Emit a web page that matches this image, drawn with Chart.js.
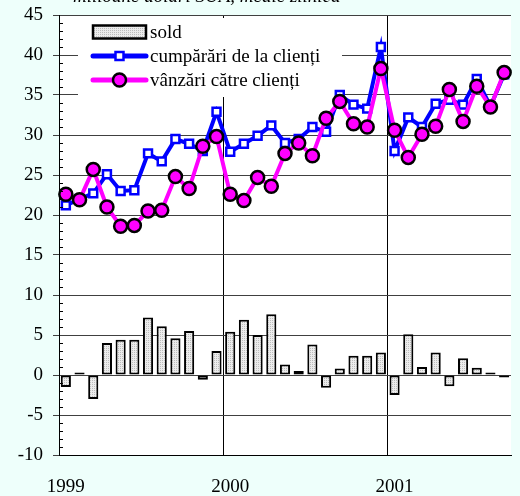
<!DOCTYPE html>
<html>
<head>
<meta charset="utf-8">
<script src="https://cdn.jsdelivr.net/npm/chart.js@4/dist/chart.umd.min.js"></script>
<style>
  html, body { margin: 0; padding: 0; background: #eefffb; }
  #wrap { width: 520px; height: 496px; }
</style>
</head>
<body>
<div id="wrap"><canvas id="chart" width="520" height="496"></canvas></div>
<script>
// luni ian. 1999 - sep. 2001
const months = [
  '1999-01', '1999-02', '1999-03', '1999-04', '1999-05', '1999-06', '1999-07', '1999-08', '1999-09', '1999-10', '1999-11', '1999-12',
  '2000-01', '2000-02', '2000-03', '2000-04', '2000-05', '2000-06', '2000-07', '2000-08', '2000-09', '2000-10', '2000-11', '2000-12',
  '2001-01', '2001-02', '2001-03', '2001-04', '2001-05', '2001-06', '2001-07', '2001-08', '2001-09'
];
const sold = [-1.5, 0.1, -3.0, 4.0, 4.4, 4.4, 7.2, 6.1, 4.6, 5.5, -0.6, 3.0,
  5.4, 6.9, 5.0, 7.6, 1.3, 0.5, 3.8, -1.6, 0.8, 2.4, 2.4, 2.8,
  -2.5, 5.1, 1.0, 2.8, -1.4, 2.1, 0.9, 0.1, -0.2];
const cumparari = [21.2, 22.0, 22.7, 25.1, 23.0, 23.1, 27.7, 26.7, 29.5, 28.9, 28.0, 32.9,
  27.9, 28.9, 29.9, 31.2, 29.0, 29.5, 31.0, 30.4, 35.0, 33.8, 33.3, 41.0,
  28.0, 32.2, 31.0, 33.9, 34.4, 33.8, 37.0, 33.6, 37.6];
const vanzari = [22.6, 21.9, 25.7, 21.0, 18.6, 18.7, 20.5, 20.6, 24.8, 23.3, 28.6, 29.8,
  22.6, 21.8, 24.7, 23.6, 27.7, 29.0, 27.4, 32.1, 34.2, 31.4, 31.0, 38.3,
  30.6, 27.2, 30.1, 31.1, 35.7, 31.7, 36.1, 33.5, 37.8];
const yTicks = { min: -10, max: 45, step: 5 };
const seriesNames = ['sold', 'cumpărări de la clienți', 'vânzări către clienți'];
const unitText = 'milioane dolari SUA, medie zilnică';

const FONT = 'Liberation Serif';

// dotted grey fill like the original bars
function dotPattern() {
  const p = document.createElement('canvas');
  p.width = 2; p.height = 2;
  const pc = p.getContext('2d');
  pc.fillStyle = '#ececec';
  pc.fillRect(0, 0, 2, 2);
  pc.fillStyle = '#bdbdbd';
  pc.fillRect(0, 0, 1, 1);
  return pc.createPattern(p, 'repeat');
}
const barFill = dotPattern();

const plotBg = {
  id: 'plotBg',
  beforeDraw(chart) {
    const a = chart.chartArea, c = chart.ctx;
    c.save();
    c.fillStyle = '#fff';
    c.fillRect(a.left, a.top, a.right - a.left, a.bottom - a.top);
    c.restore();
  }
};

const legendBox = {
  id: 'legendBox',
  beforeDatasetsDraw(chart) {
    const c = chart.ctx;
    c.save();
    c.fillStyle = '#fff';
    c.fillRect(78, 18, 264, 79);
    const x0 = 93, x1 = 146, xm = 119.5;
    const rows = [32, 56, 80];
    // sold
    c.fillStyle = barFill;
    c.fillRect(x0, rows[0] - 6.5, x1 - x0, 13);
    c.strokeStyle = '#000';
    c.lineWidth = 2.5;
    c.strokeRect(x0, rows[0] - 6.5, x1 - x0, 13);
    // cumparari
    c.lineCap = 'round';
    c.strokeStyle = '#0000ff';
    c.lineWidth = 5;
    c.beginPath(); c.moveTo(x0, rows[1]); c.lineTo(x1, rows[1]); c.stroke();
    c.fillStyle = '#fff';
    c.lineWidth = 2.5;
    c.fillRect(xm - 4, rows[1] - 4, 8, 8);
    c.strokeRect(xm - 4, rows[1] - 4, 8, 8);
    // vanzari
    c.strokeStyle = '#ff00ff';
    c.lineWidth = 5;
    c.beginPath(); c.moveTo(x0, rows[2]); c.lineTo(x1, rows[2]); c.stroke();
    c.fillStyle = '#ff00ff';
    c.strokeStyle = '#000';
    c.lineWidth = 2.5;
    c.beginPath(); c.arc(xm, rows[2], 6.5, 0, Math.PI * 2); c.fill(); c.stroke();
    // texts
    c.fillStyle = '#000';
    c.font = '19px "' + FONT + '"';
    c.textBaseline = 'middle';
    c.textAlign = 'left';
    seriesNames.forEach((n, i) => c.fillText(n, 150, rows[i] + 1));
    c.restore();
  },
  afterDraw(chart) {
    const c = chart.ctx, y = chart.scales.y, a = chart.chartArea;
    c.save();
    // minor ticks inside the value axis
    c.strokeStyle = '#000';
    c.lineWidth = 1;
    for (let v = yTicks.min; v <= yTicks.max; v++) {
      if (v % yTicks.step === 0) continue;
      const py = Math.round(y.getPixelForValue(v)) + 0.5;
      c.beginPath(); c.moveTo(a.left, py); c.lineTo(a.left + 4, py); c.stroke();
    }
    // unit line, cut at top of the picture
    c.fillStyle = '#000';
    c.font = 'italic 19px "' + FONT + '"';
    c.textBaseline = 'alphabetic';
    c.textAlign = 'left';
    c.fillText(unitText, 73, 2);
    c.restore();
  }
};

new Chart(document.getElementById('chart'), {
  type: 'bar',
  data: {
    labels: months,
    datasets: [{
      type: 'line',
      label: seriesNames[2],
      data: vanzari,
      borderColor: '#ff00ff',
      borderWidth: 4,
      tension: 0,
      pointStyle: 'circle',
      pointRadius: 6.5,
      pointBackgroundColor: '#ff00ff',
      pointBorderColor: '#000',
      pointBorderWidth: 2.5,
      order: 1
    }, {
      type: 'line',
      label: seriesNames[1],
      data: cumparari,
      borderColor: '#0000ff',
      borderWidth: 4,
      tension: 0,
      pointStyle: 'rect',
      pointRadius: 5.6,
      pointBackgroundColor: '#fff',
      pointBorderColor: '#0000ff',
      pointBorderWidth: 2.5,
      order: 2
    }, {
      label: seriesNames[0],
      data: sold,
      backgroundColor: barFill,
      borderColor: '#000',
      borderWidth: 2,
      borderSkipped: false,
      minBarLength: 2.5,
      barPercentage: 0.74,
      categoryPercentage: 1,
      order: 3
    }]
  },
  options: {
    responsive: false,
    animation: false,
    layout: { padding: { top: 15, right: 6, left: 0, bottom: 0 } },
    plugins: {
      legend: { display: false },
      tooltip: { enabled: false }
    },
    scales: {
      x: {
        offset: true,
        afterFit: s => {
          s.height = 41;
          s.paddingLeft = 0; s.paddingRight = 0;
        },
        grid: {
          offset: true,
          drawTicks: false,
          color: ctx => (ctx.index === 12 || ctx.index === 24) ? '#000' : 'rgba(0,0,0,0)',
          lineWidth: 1
        },
        border: { display: true, color: '#000', width: 1 },
        ticks: {
          autoSkip: false,
          maxRotation: 0,
          padding: 21,
          color: '#000',
          font: { family: FONT, size: 19 },
          callback: (v, i) => months[i].endsWith('-01') ? months[i].slice(0, 4) : ''
        }
      },
      y: {
        min: yTicks.min,
        max: yTicks.max,
        afterFit: s => {
          s.width = 59;
          s.paddingTop = 0; s.paddingBottom = 0;
        },
        grid: { color: '#404040', lineWidth: 1, tickLength: 6 },
        border: { display: true, color: '#000', width: 1 },
        ticks: {
          stepSize: yTicks.step,
          padding: 10,
          color: '#000',
          font: { family: FONT, size: 19 }
        }
      }
    }
  },
  plugins: [plotBg, legendBox]
});
</script>
</body>
</html>
